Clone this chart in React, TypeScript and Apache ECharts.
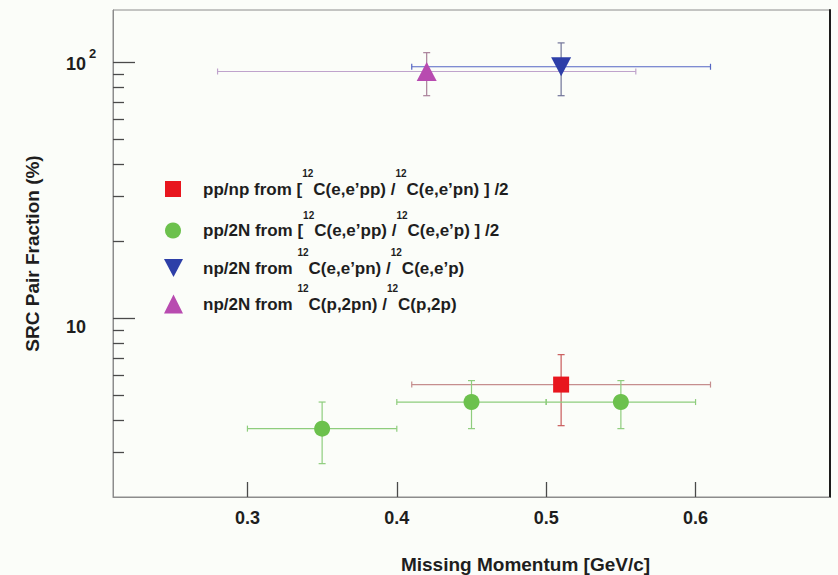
import React, { useEffect, useRef } from 'react';
import * as echarts from 'echarts';

const FONT = 'Liberation Sans, Arial, Helvetica, sans-serif';

// Axis ticks
const xTickValues = [0.3, 0.4, 0.5, 0.6];
const yMajorTicks = [10, 100];
const yMinorTicks = [3, 4, 5, 6, 7, 8, 9, 20, 30, 40, 50, 60, 70, 80, 90];

// Series names (plain) as used by the legend lookup
const seriesNames = [
  'pp/np from [12C(e,e’pp) /12C(e,e’pn) ] /2',
  'pp/2N from [12C(e,e’pp) /12C(e,e’p) ] /2',
  'np/2N from 12C(e,e’pn) /12C(e,e’p)',
  'np/2N from 12C(p,2pn) /12C(p,2p)',
];

// Same labels with the mass number set as a superscript
const seriesLabels = [
  '{g|}{t|pp/np from [}{s|12}{t|C(e,e’pp) /}{s|12}{t|C(e,e’pn) ] /2}',
  '{g|}{t|pp/2N from [}{s|12}{t|C(e,e’pp) /}{s|12}{t|C(e,e’p) ] /2}',
  '{g|}{t|np/2N from }{s|12}{t|C(e,e’pn) /}{s|12}{t|C(e,e’p)}',
  '{g|}{t|np/2N from }{s|12}{t|C(p,2pn) /}{s|12}{t|C(p,2p)}',
];

// pp/np from (e,e'pp)/(e,e'pn)
const ppnpMomentum = [0.51];
const ppnpFraction = [5.5];
const ppnpMomentumRange = [[0.41, 0.61]];
const ppnpFractionRange = [[3.8, 7.2]];

// pp/2N from (e,e'pp)/(e,e'p)
const pp2nMomentum = [0.35, 0.45, 0.55];
const pp2nFraction = [3.7, 4.7, 4.7];
const pp2nMomentumRange = [[0.3, 0.4], [0.4, 0.5], [0.5, 0.6]];
const pp2nFractionRange = [[2.7, 4.7], [3.7, 5.7], [3.7, 5.7]];

// np/2N from (e,e'pn)/(e,e'p)
const np2nElectronMomentum = [0.51];
const np2nElectronFraction = [96];
const np2nElectronMomentumRange = [[0.41, 0.61]];
const np2nElectronFractionRange = [[74, 119]];

// np/2N from (p,2pn)/(p,2p)
const np2nProtonMomentum = [0.42];
const np2nProtonFraction = [92];
const np2nProtonMomentumRange = [[0.28, 0.56]];
const np2nProtonFractionRange = [[74, 109]];

const DOWN_TRIANGLE = 'path://M0,0L20,0L10,19Z';

const markerStyles = [
  { color: '#e8161e', symbol: 'rect', size: [16, 16] },
  { color: '#6cc14d', symbol: 'circle', size: [16, 16] },
  { color: '#2d3fa8', symbol: DOWN_TRIANGLE, size: [20, 19] },
  { color: '#b84bb0', symbol: 'triangle', size: [20, 19] },
];

const barStyles = [
  { h: '#c58e8e', v: '#c95b5b' },
  { h: '#8ecd7d', v: '#8ecd7d' },
  { h: '#5566c4', v: '#707398' },
  { h: '#bfa3cc', v: '#a98099' },
];

const legendLayout = [
  { left: 165, center: 189, w: 16, h: 16, gap: 17 },
  { left: 165, center: 230.5, w: 16, h: 16, gap: 17 },
  { left: 164, center: 268, w: 19, h: 20, gap: 15 },
  { left: 164, center: 304, w: 19, h: 19, gap: 15 },
];

function points(xs: number[], ys: number[]) {
  return xs.map((x, i) => [x, ys[i]]);
}

function errorBars(
  name: string,
  xs: number[],
  ys: number[],
  xr: number[][],
  yr: number[][],
  style: { h: string; v: string }
) {
  return {
    type: 'custom',
    name: name + ' (errors)',
    silent: true,
    clip: false,
    z: 2,
    encode: { x: 0, y: 1 },
    data: xs.map((x, i) => [x, ys[i], xr[i][0], xr[i][1], yr[i][0], yr[i][1]]),
    renderItem: (_params: any, api: any) => {
      const x = api.value(0);
      const y = api.value(1);
      const l = api.coord([api.value(2), y]);
      const r = api.coord([api.value(3), y]);
      const b = api.coord([x, api.value(4)]);
      const t = api.coord([x, api.value(5)]);
      const hs = { stroke: style.h, lineWidth: 1.2 };
      const vs = { stroke: style.v, lineWidth: 1.2 };
      const hc = 3;
      const vc = 3.5;
      return {
        type: 'group',
        children: [
          { type: 'line', shape: { x1: l[0], y1: l[1], x2: r[0], y2: r[1] }, style: hs },
          { type: 'line', shape: { x1: l[0], y1: l[1] - hc, x2: l[0], y2: l[1] + hc }, style: hs },
          { type: 'line', shape: { x1: r[0], y1: r[1] - hc, x2: r[0], y2: r[1] + hc }, style: hs },
          { type: 'line', shape: { x1: t[0], y1: t[1], x2: b[0], y2: b[1] }, style: vs },
          { type: 'line', shape: { x1: t[0] - vc, y1: t[1], x2: t[0] + vc, y2: t[1] }, style: vs },
          { type: 'line', shape: { x1: b[0] - vc, y1: b[1], x2: b[0] + vc, y2: b[1] }, style: vs },
        ],
      };
    },
  };
}

function markers(i: number, data: number[][]) {
  const m = markerStyles[i];
  return {
    type: 'scatter',
    name: seriesNames[i],
    symbol: m.symbol,
    symbolSize: m.size,
    z: 3,
    itemStyle: { color: m.color, opacity: 1 },
    data,
  };
}

export default function App() {
  const ref = useRef<HTMLDivElement>(null);

  useEffect(() => {
    if (!ref.current) return;
    const chart = echarts.init(ref.current, undefined, { renderer: 'svg' });

    const legendRich = {
      t: { fontFamily: FONT, fontSize: 17, fontWeight: 'bold', color: '#1e1e1e', lineHeight: 41, verticalAlign: 'middle' },
      s: {
        fontFamily: FONT,
        fontSize: 10,
        fontWeight: 'bold',
        color: '#1e1e1e',
        lineHeight: 12,
        verticalAlign: 'top',
      },
    };

    const legends = legendLayout.map((lay, i) => ({
      show: true,
      orient: 'vertical',
      left: lay.left,
      top: lay.center - 20.5,
      padding: 0,
      itemWidth: lay.w,
      itemHeight: lay.h,
      icon: markerStyles[i].symbol,
      selectedMode: false,
      data: [seriesNames[i]],
      formatter: () => seriesLabels[i],
      textStyle: {
        fontFamily: FONT,
        fontSize: 17,
        fontWeight: 'bold',
        color: '#1e1e1e',
        rich: { ...legendRich, g: { width: lay.gap } },
      },
    }));

    chart.setOption({
      animation: false,
      backgroundColor: '#fbfdf9',
      grid: {
        left: 113,
        top: 10,
        width: 717,
        height: 487,
        show: true,
        borderColor: '#8c8c8c',
        borderWidth: 1,
        containLabel: false,
        outerBoundsMode: 'none',
      },
      legend: legends,
      xAxis: {
        type: 'value',
        min: 0.21,
        max: 0.69,
        name: 'Missing Momentum [GeV/c]',
        nameLocation: 'middle',
        nameGap: 57,
        nameTextStyle: {
          fontFamily: FONT,
          fontSize: 19,
          fontWeight: 'bold',
          color: '#1e1e1e',
          lineHeight: 20,
          padding: [0, 0, 0, 108],
        },
        axisLine: { show: true, lineStyle: { color: '#8c8c8c', width: 1 } },
        axisTick: {
          show: true,
          inside: true,
          length: 15,
          customValues: xTickValues,
          lineStyle: { color: '#4a4a4a', width: 1.3 },
        },
        axisLabel: {
          customValues: xTickValues,
          formatter: (v: number) => v.toFixed(1),
          fontFamily: FONT,
          fontSize: 18,
          fontWeight: 'bold',
          color: '#1e1e1e',
          lineHeight: 18,
          margin: 12,
        },
        splitLine: { show: false },
      },
      yAxis: [
        {
          type: 'log',
          logBase: 10,
          min: 2,
          max: 160,
          position: 'left',
          name: 'SRC Pair Fraction (%)',
          nameLocation: 'middle',
          nameGap: 71,
          nameRotate: 90,
          nameTextStyle: {
            fontFamily: FONT,
            fontSize: 19,
            fontWeight: 'bold',
            color: '#1e1e1e',
          },
          axisLine: { show: true, lineStyle: { color: '#8c8c8c', width: 1 } },
          axisTick: {
            show: true,
            inside: true,
            length: 22,
            customValues: yMajorTicks,
            lineStyle: { color: '#4a4a4a', width: 1.3 },
          },
          axisLabel: {
            customValues: yMajorTicks,
            align: 'left',
            margin: 47,
            formatter: (v: number) => {
              const p = Math.round(Math.log10(v));
              return p === 1 ? '{c|10}' : '{b|10}{w|}{s|' + p + '}';
            },
            rich: {
              b: { fontFamily: FONT, fontSize: 18, fontWeight: 'bold', color: '#1e1e1e', lineHeight: 22, verticalAlign: 'bottom' },
              w: { width: 3, lineHeight: 22, verticalAlign: 'bottom' },
              s: {
                fontFamily: FONT,
                fontSize: 13,
                fontWeight: 'bold',
                color: '#1e1e1e',
                lineHeight: 15,
                verticalAlign: 'bottom',
                padding: [0, 0, 13.5, 0],
              },
              c: {
                fontFamily: FONT,
                fontSize: 18,
                fontWeight: 'bold',
                color: '#1e1e1e',
                lineHeight: 22,
                padding: [18, 0, 0, 0],
              },
            },
          },
          splitLine: { show: false },
        },
        {
          type: 'log',
          logBase: 10,
          min: 2,
          max: 160,
          position: 'left',
          axisLine: { show: false },
          axisTick: {
            show: true,
            inside: true,
            length: 11,
            customValues: yMinorTicks,
            lineStyle: { color: '#4a4a4a', width: 1.3 },
          },
          axisLabel: { show: false },
          splitLine: { show: false },
        },
        {
          type: 'value',
          min: 0,
          max: 1,
          position: 'right',
          axisLine: { show: true, lineStyle: { color: '#1c1c1c', width: 2 } },
          axisTick: { show: false },
          axisLabel: { show: false },
          splitLine: { show: false },
        },
      ],
      series: [
        errorBars(seriesNames[0], ppnpMomentum, ppnpFraction, ppnpMomentumRange, ppnpFractionRange, barStyles[0]),
        errorBars(seriesNames[1], pp2nMomentum, pp2nFraction, pp2nMomentumRange, pp2nFractionRange, barStyles[1]),
        errorBars(seriesNames[2], np2nElectronMomentum, np2nElectronFraction, np2nElectronMomentumRange, np2nElectronFractionRange, barStyles[2]),
        errorBars(seriesNames[3], np2nProtonMomentum, np2nProtonFraction, np2nProtonMomentumRange, np2nProtonFractionRange, barStyles[3]),
        markers(0, points(ppnpMomentum, ppnpFraction)),
        markers(1, points(pp2nMomentum, pp2nFraction)),
        markers(2, points(np2nElectronMomentum, np2nElectronFraction)),
        markers(3, points(np2nProtonMomentum, np2nProtonFraction)),
      ],
    });

    return () => chart.dispose();
  }, []);

  return (
    <div
      style={{ position: 'fixed', left: 0, top: 0, width: 838, height: 575, background: '#fbfdf9' }}
    >
      <div ref={ref} style={{ width: 838, height: 575 }} />
    </div>
  );
}
